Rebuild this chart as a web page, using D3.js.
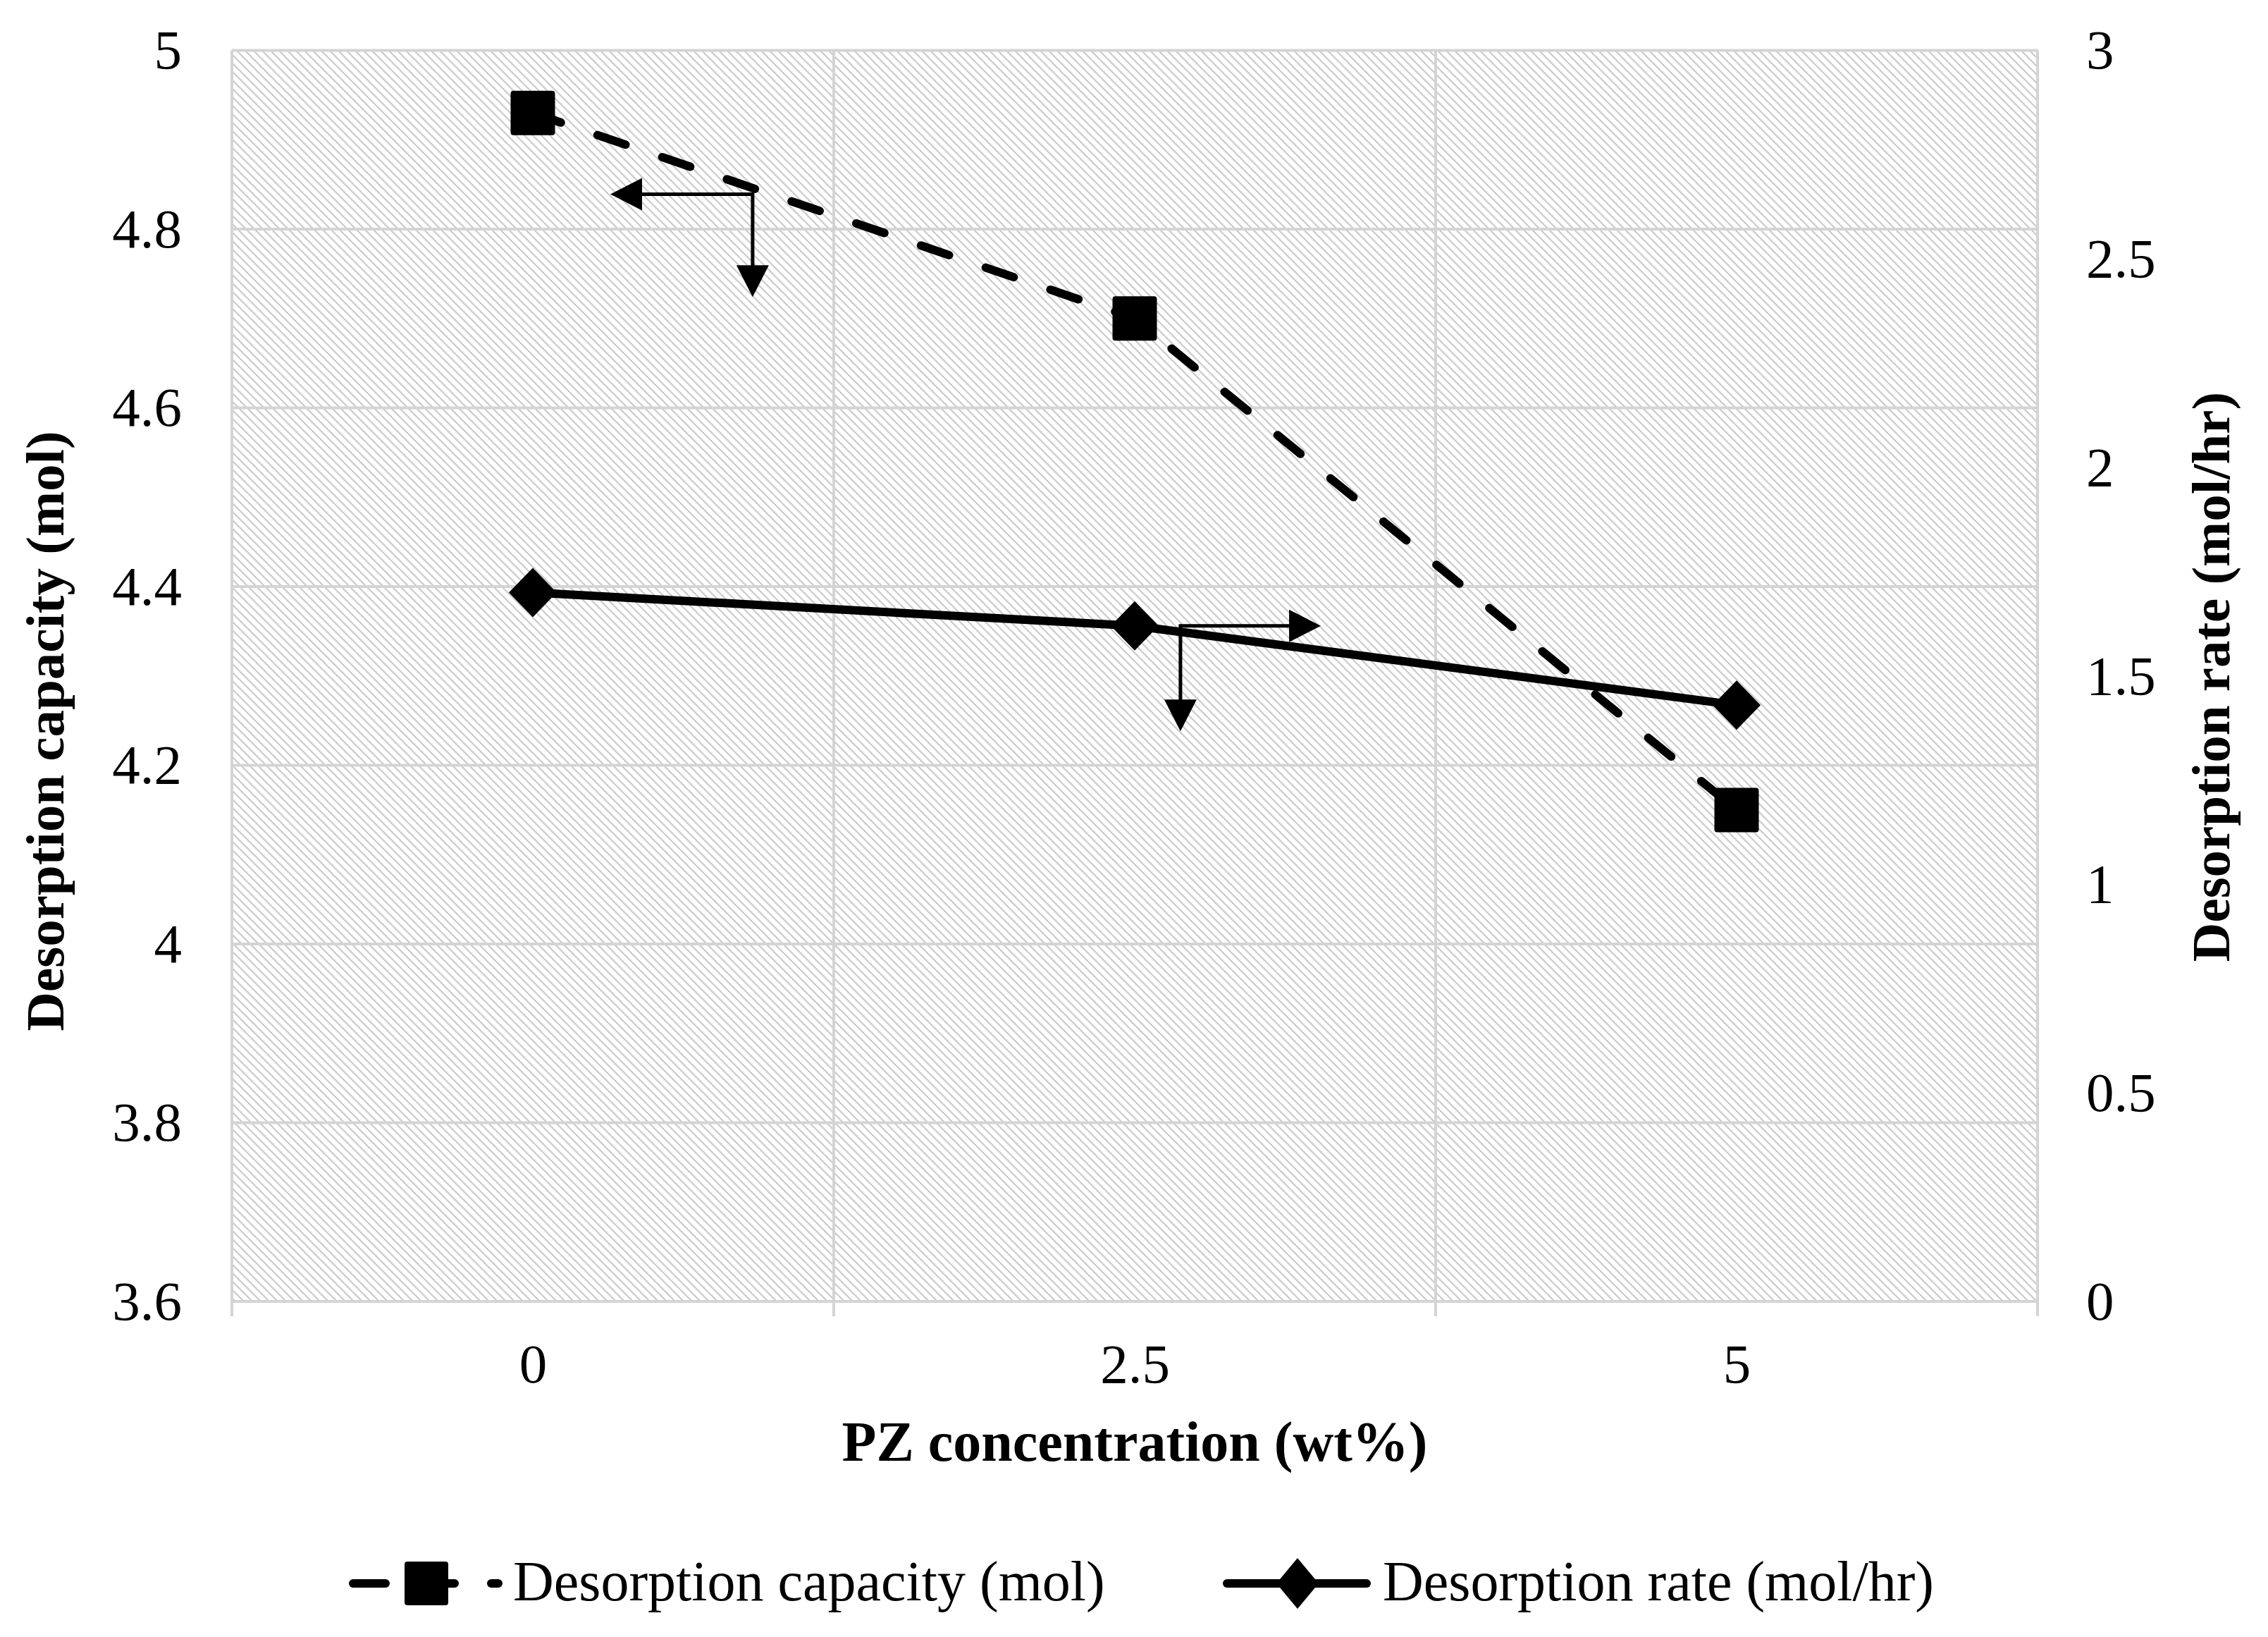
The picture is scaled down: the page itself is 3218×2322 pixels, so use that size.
<!DOCTYPE html>
<html>
<head>
<meta charset="utf-8">
<script src="https://cdn.jsdelivr.net/npm/d3@7"></script>
<style>
  body { margin: 0; background: #fff; }
  svg { display: block; }
  text { font-family: "Liberation Serif", "Times New Roman", serif; fill: #000; }
</style>
</head>
<body>
<div id="chart"></div>
<script>
// Data
const categories = ["0", "2.5", "5"];
const pzValues = [0, 2.5, 5];
const capacity = [4.93, 4.7, 4.15]; // left axis (mol)
const rate = [1.7, 1.62, 1.43]; // right axis (mol/hr)
const leftTicks = [3.6, 3.8, 4, 4.2, 4.4, 4.6, 4.8, 5];
const rightTicks = [0, 0.5, 1, 1.5, 2, 2.5, 3];
const bandEdges = [-1.25, 1.25, 3.75, 6.25];

// Annotation arrows (data coords: x in wt%, y on the left axis)
const arrowCorners = [
  { x: 0.913, y: 4.839, tipX: 0.322, tipY: 4.724 },
  { x: 2.69, y: 4.356, tipX: 3.273, tipY: 4.238 },
];

const WIDTH = 3218;
const HEIGHT = 2322;

const plot = { left: 329, right: 2891, top: 71.5, bottom: 1846 };

const x = d3.scaleLinear().domain([-1.25, 6.25]).range([plot.left, plot.right]);
const yL = d3.scaleLinear().domain([3.6, 5]).range([plot.bottom, plot.top]);
const yR = d3.scaleLinear().domain([0, 3]).range([plot.bottom, plot.top]);

const svg = d3
  .select("#chart")
  .append("svg")
  .attr("width", WIDTH)
  .attr("height", HEIGHT);

svg.append("rect").attr("width", WIDTH).attr("height", HEIGHT).attr("fill", "#fff");

// Hatch pattern
const defs = svg.append("defs");
defs
  .append("pattern")
  .attr("id", "hatch")
  .attr("patternUnits", "userSpaceOnUse")
  .attr("width", 12)
  .attr("height", 12)
  .append("path")
  .attr("d", "M0,0L12,12M-6,6L6,18M6,-6L18,6")
  .attr("stroke", "#cacaca")
  .attr("stroke-width", 2.2);

svg
  .append("rect")
  .attr("x", plot.left)
  .attr("y", plot.top)
  .attr("width", plot.right - plot.left)
  .attr("height", plot.bottom - plot.top)
  .attr("fill", "url(#hatch)");

// Grid
const gridColor = "#d4d4d4";
svg
  .append("g")
  .selectAll("line")
  .data(leftTicks)
  .enter()
  .append("line")
  .attr("x1", plot.left)
  .attr("x2", plot.right)
  .attr("y1", (d) => yL(d))
  .attr("y2", (d) => yL(d))
  .attr("stroke", gridColor)
  .attr("stroke-width", 4);

svg
  .append("g")
  .selectAll("line")
  .data(bandEdges)
  .enter()
  .append("line")
  .attr("x1", (d) => x(d))
  .attr("x2", (d) => x(d))
  .attr("y1", plot.top)
  .attr("y2", plot.bottom + 21)
  .attr("stroke", gridColor)
  .attr("stroke-width", 4);

// Axes (labels only)
const fontSize = 79;
const titleSize = 77;

const leftAxis = svg
  .append("g")
  .attr("transform", "translate(" + plot.left + ",0)")
  .call(d3.axisLeft(yL).tickValues(leftTicks).tickSize(0).tickPadding(71).tickFormat((d) => String(d)));

const rightAxis = svg
  .append("g")
  .attr("transform", "translate(" + plot.right + ",0)")
  .call(d3.axisRight(yR).tickValues(rightTicks).tickSize(0).tickPadding(69).tickFormat((d) => String(d)));

const bottomAxis = svg
  .append("g")
  .attr("transform", "translate(0," + plot.bottom + ")")
  .call(d3.axisBottom(x).tickValues(pzValues).tickSize(0).tickPadding(59).tickFormat((d, i) => categories[i]));

[leftAxis, rightAxis, bottomAxis].forEach((a) => {
  a.select(".domain").remove();
  a.selectAll("text")
    .style("font-family", '"Liberation Serif", "Times New Roman", serif')
    .style("font-size", fontSize + "px")
    .attr("fill", "#000");
});

// Axis titles
svg
  .append("text")
  .attr("transform", "translate(90,1037) rotate(-90)")
  .attr("text-anchor", "middle")
  .style("font-size", titleSize + "px")
  .style("font-weight", "bold")
  .text("Desorption capacity (mol)");

svg
  .append("text")
  .attr("transform", "translate(3163,960) rotate(-90)")
  .attr("text-anchor", "middle")
  .style("font-size", titleSize + "px")
  .style("font-weight", "bold")
  .text("Desorption rate (mol/hr)");

svg
  .append("text")
  .attr("x", (plot.left + plot.right) / 2)
  .attr("y", 2072)
  .attr("text-anchor", "middle")
  .style("font-size", "80px")
  .style("font-weight", "bold")
  .text("PZ concentration (wt%)");

// Series
const capData = pzValues.map((p, i) => ({ x: p, y: capacity[i] }));
const rateData = pzValues.map((p, i) => ({ x: p, y: rate[i] }));

const dash = "42,55";
const lineW = 12;

svg
  .append("path")
  .datum(capData)
  .attr("fill", "none")
  .attr("stroke", "#000")
  .attr("stroke-width", lineW)
  .attr("stroke-dasharray", dash)
  .attr("stroke-linecap", "round")
  .attr("stroke-linejoin", "round")
  .attr("d", d3.line().x((d) => x(d.x)).y((d) => yL(d.y)));

svg
  .selectAll(".sq")
  .data(capData)
  .enter()
  .append("rect")
  .attr("class", "sq")
  .attr("x", (d) => x(d.x) - 31.5)
  .attr("y", (d) => yL(d.y) - 31.5)
  .attr("width", 63)
  .attr("height", 63)
  .attr("rx", 4)
  .attr("fill", "#000");

svg
  .append("path")
  .datum(rateData)
  .attr("fill", "none")
  .attr("stroke", "#000")
  .attr("stroke-width", lineW)
  .attr("stroke-linejoin", "round")
  .attr("d", d3.line().x((d) => x(d.x)).y((d) => yR(d.y)));

const diamond = (cx, cy, w, h) =>
  "M" + cx + "," + (cy - h) + "L" + (cx + w) + "," + cy + "L" + cx + "," + (cy + h) + "L" + (cx - w) + "," + cy + "Z";

svg
  .selectAll(".dm")
  .data(rateData)
  .enter()
  .append("path")
  .attr("class", "dm")
  .attr("d", (d) => diamond(x(d.x), yR(d.y), 34, 35))
  .attr("fill", "#000");

// Arrows
const arrowHead = (tx, ty, dx, dy) => {
  const len = 45, half = 23;
  const bx = tx - dx * len, by = ty - dy * len;
  const px = -dy * half, py = dx * half;
  return "M" + tx + "," + ty + "L" + (bx + px) + "," + (by + py) + "L" + (bx - px) + "," + (by - py) + "Z";
};

const arrows = svg.append("g");
arrowCorners.forEach((a) => {
  const cx = x(a.x), cy = yL(a.y);
  const hx = x(a.tipX), vy = yL(a.tipY);
  const dirX = hx > cx ? 1 : -1;
  arrows
    .append("path")
    .attr("d", "M" + (hx - dirX * 40) + "," + cy + "L" + cx + "," + cy + "L" + cx + "," + (vy - 40))
    .attr("fill", "none")
    .attr("stroke", "#000")
    .attr("stroke-width", 5);
  arrows.append("path").attr("d", arrowHead(hx, cy, dirX, 0)).attr("fill", "#000");
  arrows.append("path").attr("d", arrowHead(cx, vy, 0, 1)).attr("fill", "#000");
});

// Legend
const legend = svg.append("g");
const legY = 2246;

legend
  .append("line")
  .attr("x1", 501)
  .attr("x2", 707)
  .attr("y1", legY)
  .attr("y2", legY)
  .attr("stroke", "#000")
  .attr("stroke-width", lineW)
  .attr("stroke-dasharray", "46,52")
  .attr("stroke-linecap", "round");

legend
  .append("rect")
  .attr("x", 605 - 31)
  .attr("y", legY - 31)
  .attr("width", 62)
  .attr("height", 62)
  .attr("rx", 4)
  .attr("fill", "#000");

legend
  .append("text")
  .attr("x", 728)
  .attr("y", 2270)
  .style("font-size", "80px")
  .text("Desorption capacity (mol)");

legend
  .append("line")
  .attr("x1", 1741)
  .attr("x2", 1939)
  .attr("y1", legY)
  .attr("y2", legY)
  .attr("stroke", "#000")
  .attr("stroke-width", lineW)
  .attr("stroke-linecap", "round");

legend.append("path").attr("d", diamond(1841, legY, 30, 36)).attr("fill", "#000");

legend
  .append("text")
  .attr("x", 1962)
  .attr("y", 2270)
  .style("font-size", "80px")
  .text("Desorption rate (mol/hr)");
</script>
</body>
</html>
